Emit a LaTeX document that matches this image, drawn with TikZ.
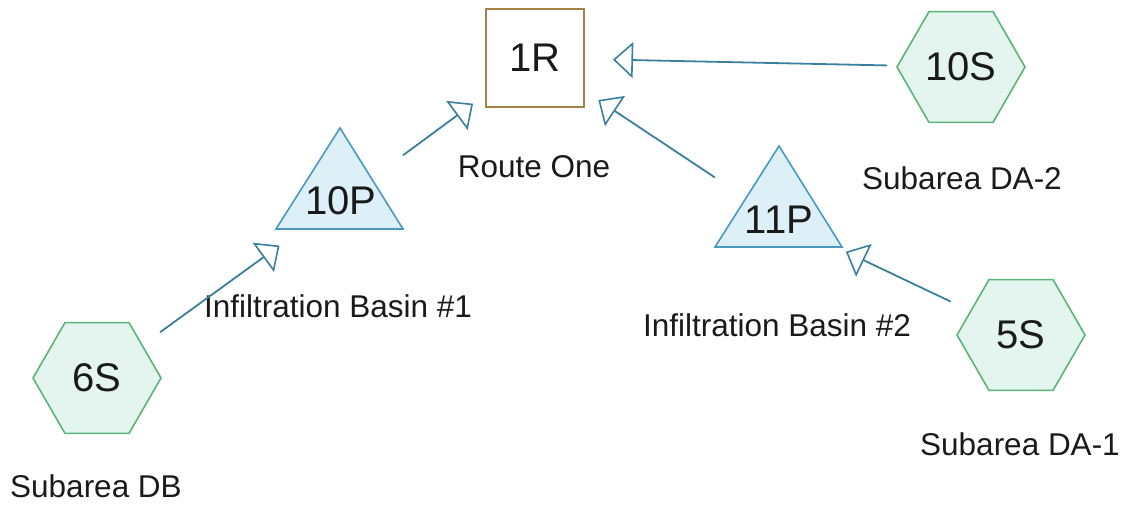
\documentclass[tikz,border=0pt]{standalone}
\usepackage{fontspec}
\setmainfont{Liberation Sans}
\usetikzlibrary{shapes.geometric,arrows.meta}
\definecolor{hexline}{HTML}{5DB47A}
\definecolor{hexfill}{HTML}{E3F5EE}
\definecolor{triline}{HTML}{4A98C4}
\definecolor{trifill}{HTML}{DDF0F8}
\definecolor{boxline}{HTML}{A5814A}
\definecolor{flowcol}{HTML}{3A7F9E}
\definecolor{txt}{HTML}{1A1A1A}
\tikzset{
  subarea/.style={regular polygon, regular polygon sides=6, minimum size=128pt, inner sep=0pt,
    draw=hexline, fill=hexfill, line width=1.6pt, text=txt, font=\fontsize{40}{46}\selectfont},
  reach/.style={rectangle, minimum size=98pt, inner sep=0pt, draw=boxline, fill=white,
    line width=1.6pt, text=txt, font=\fontsize{40}{46}\selectfont},
  pond/.style={draw=triline, fill=trifill, line width=1.6pt, line join=miter},
  pondtext/.style={inner sep=0pt, text=txt, font=\fontsize{40}{46}\selectfont},
  lbl/.style={anchor=base, inner sep=0pt, text=txt, font=\fontsize{31.5}{36}\selectfont},
  flow/.style={draw=flowcol, line width=1.8pt,
    -{Triangle[length=20pt, width=36pt, fill=white, line width=1.6pt]}}
}
\begin{document}
\begin{tikzpicture}[x=1pt, y=-1pt]
\useasboundingbox (0,0) rectangle (1127,508);
% reach
\node[reach] (1R) at (535,58) {1R};
\node[lbl] (l1R) at (534,177) {Route One};
% ponds
\draw[pond] (340,128) -- (403,229) -- (276,229) -- cycle;
\node[pondtext] (10P) at (341,201) {10P};
\node[lbl] (l10P) at (338,317) {Infiltration Basin \#1};
\draw[pond] (779,146) -- (842,247) -- (715,247) -- cycle;
\node[pondtext] (11P) at (779,220) {11P};
\node[lbl] (l11P) at (777,336) {Infiltration Basin \#2};
% subareas
\node[subarea] (10S) at (961,67) {10S};
\node[lbl] (l10S) at (962,189) {Subarea DA-2};
\node[subarea] (6S) at (97,378) {6S};
\node[lbl] (l6S) at (96,497) {Subarea DB};
\node[subarea] (5S) at (1021,335) {5S};
\node[lbl] (l5S) at (1020,455) {Subarea DA-1};
% connectors
\draw[flow, shorten <=74pt, shorten >=78pt] (10S.center) -- (1R.center);
\draw[flow, shorten <=77pt, shorten >=76pt] (11P.center) -- (1R.center);
\draw[flow, shorten <=77pt, shorten >=77pt] (10P.center) -- (1R.center);
\draw[flow, shorten <=78pt, shorten >=76pt] (6S.center) -- (10P.center);
\draw[flow, shorten <=78pt, shorten >=74pt] (5S.center) -- (11P.center);
\end{tikzpicture}
\end{document}
